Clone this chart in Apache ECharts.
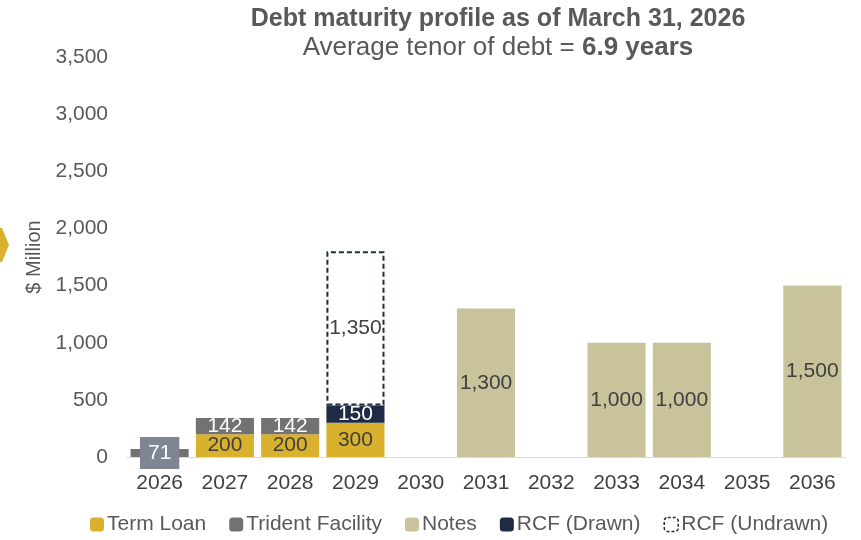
<!DOCTYPE html>
<html>
<head>
<meta charset="utf-8">
<script src="https://cdn.jsdelivr.net/npm/echarts@6/dist/echarts.min.js"></script>
<style>
  html, body { margin: 0; padding: 0; background: #fff; }
  #chart { width: 861px; height: 540px; }
</style>
</head>
<body>
<div id="chart"></div>
<script>
const years = ['2026', '2027', '2028', '2029', '2030', '2031', '2032', '2033', '2034', '2035', '2036'];
const termLoan = [null, 200, 200, 300, null, null, null, null, null, null, null];
const trident = [71, 142, 142, null, null, null, null, null, null, null, null];
const notes = [null, null, null, null, null, 1300, null, 1000, 1000, null, 1500];
const rcfDrawn = [null, null, null, 150, null, null, null, null, null, null, null];
const rcfUndrawn = [null, null, null, 1350, null, null, null, null, null, null, null];

const fmt = v => Number(v).toLocaleString('en-US');
const font = 'Liberation Sans';

const chart = echarts.init(document.getElementById('chart'));

const option = {
  animation: false,
  textStyle: { fontFamily: font },
  title: {
    text: 'Debt maturity profile as of March 31, 2026',
    subtext: '{n|Average tenor of debt = }{b|6.9 years}',
    left: 493,
    textAlign: 'center',
    top: 2,
    itemGap: 3,
    textStyle: { color: '#595959', fontSize: 25, fontWeight: 'bold', fontFamily: font },
    subtextStyle: {
      rich: {
        n: { color: '#595959', fontSize: 26, fontFamily: font },
        b: { color: '#595959', fontSize: 26, fontWeight: 'bold', fontFamily: font }
      }
    }
  },
  legend: {
    bottom: 0,
    left: 85,
    itemWidth: 14,
    itemHeight: 14,
    itemGap: 23,
    textStyle: { color: '#595959', fontSize: 21, padding: [0, 0, 0, -2] },
    data: [
      { name: 'Term Loan' },
      { name: 'Trident Facility' },
      { name: 'Notes' },
      { name: 'RCF (Drawn)' },
      { name: 'RCF (Undrawn)', itemStyle: { color: '#fff', borderColor: '#1F2A44', borderWidth: 1.5, borderType: [3, 2] } }
    ]
  },
  grid: { left: 127, right: 16, top: 57, bottom: 83 },
  xAxis: {
    type: 'category',
    data: years,
    axisTick: { show: false },
    axisLine: { lineStyle: { color: '#d9d9d9', width: 1 } },
    axisLabel: { color: '#404040', fontSize: 21, margin: 16 }
  },
  yAxis: {
    type: 'value',
    min: 0,
    max: 3500,
    interval: 500,
    name: '$ Million',
    nameLocation: 'middle',
    nameRotate: 90,
    nameGap: 75,
    nameTextStyle: { color: '#595959', fontSize: 20 },
    axisLine: { show: false },
    axisTick: { show: false },
    splitLine: { show: false },
    axisLabel: { color: '#595959', fontSize: 21, margin: 19, formatter: v => fmt(v) }
  },
  graphic: [{
    type: 'polygon',
    shape: { points: [[0, 228], [2, 228], [9, 245], [2, 262], [0, 262]] },
    style: { fill: '#DAB12C' }
  }],
  series: [
    {
      name: 'Term Loan', type: 'bar', stack: 'total', data: termLoan,
      barCategoryGap: '11%',
      itemStyle: { color: '#DAB12C' },
      label: { show: true, position: 'inside', color: '#404040', fontSize: 21, formatter: p => fmt(p.value) }
    },
    {
      name: 'Trident Facility', type: 'bar', stack: 'total', data: trident,
      itemStyle: { color: '#727272' },
      label: { show: true, position: 'inside', color: '#fff', fontSize: 21, formatter: p => fmt(p.value) }
    },
    {
      name: 'RCF (Drawn)', type: 'bar', stack: 'total', data: rcfDrawn,
      itemStyle: { color: '#1F2A44' },
      label: { show: true, position: 'inside', color: '#fff', fontSize: 21, formatter: p => fmt(p.value) }
    },
    {
      name: 'RCF (Undrawn)', type: 'bar', stack: 'total', data: rcfUndrawn,
      itemStyle: { color: '#fff', borderColor: '#1F2A44', borderWidth: 2, borderType: [5, 3] },
      label: { show: true, position: 'inside', color: '#404040', fontSize: 21, formatter: p => fmt(p.value) }
    },
    {
      name: 'Notes', type: 'bar', stack: 'total', data: notes,
      itemStyle: { color: '#C9C39B' },
      label: { show: true, position: 'inside', color: '#404040', fontSize: 21, formatter: p => fmt(p.value) }
    }
  ]
};

// 2026 Trident label sits in a grey box over the thin bar
option.series[1].data = trident.map((v, i) => i === 0 ? {
  value: v,
  label: { backgroundColor: '#7F8595', padding: [6, 8, 5, 8], fontSize: 21 }
} : v);

chart.setOption(option);
</script>
</body>
</html>
